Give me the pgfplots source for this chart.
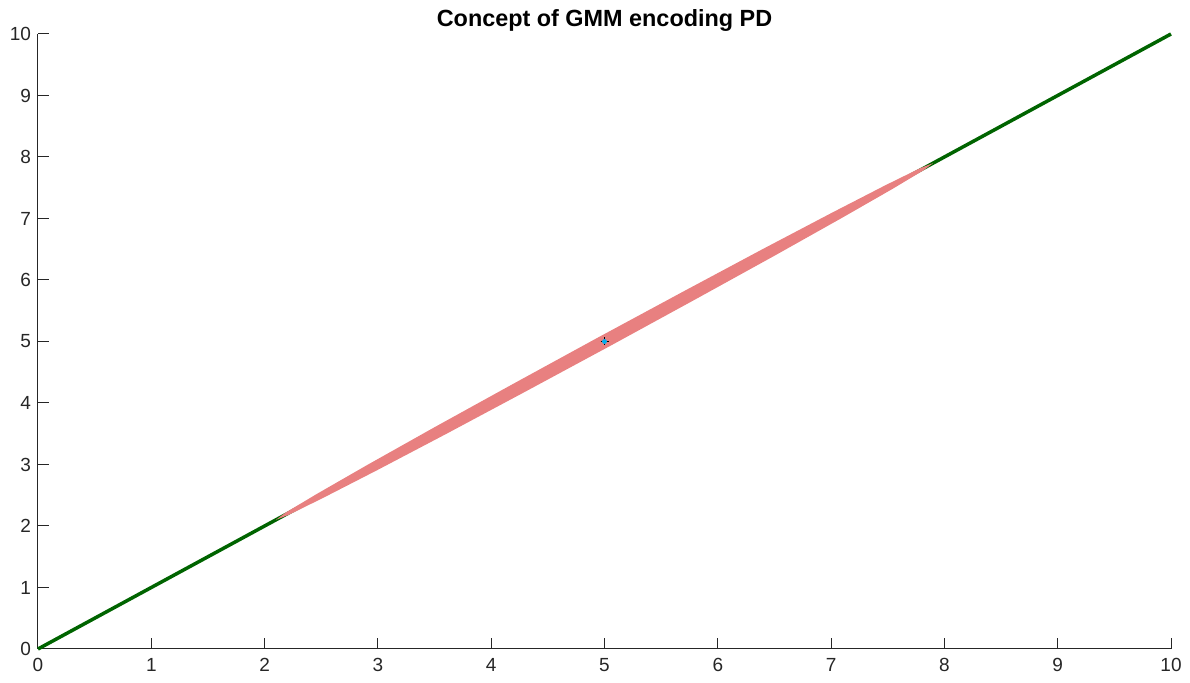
\documentclass[border=0pt]{standalone}
\usepackage{fontspec}
\setmainfont{Liberation Sans}
\usepackage{pgfplots}
\pgfplotsset{compat=1.18}
\definecolor{axgray}{RGB}{38,38,38}
\definecolor{linegreen}{RGB}{0,100,0}
\definecolor{ellred}{RGB}{232,128,128}
\begin{document}
\begin{tikzpicture}
% page size in px*0.5pt, axis box at origin
\path[use as bounding box] (-19pt,-17pt) rectangle (576pt,324.5pt);
\begin{axis}[scale only axis, width=566.5pt, height=307.5pt,
  xmin=0, xmax=10, ymin=0, ymax=10,
  xtick={0,...,10}, ytick={0,...,10},
  axis x line*=bottom, axis y line*=left,
  axis line style={axgray, line width=0.5pt, -},
  tick style={axgray, line width=0.5pt},
  major tick length=5.5pt, tick align=inside,
  ticklabel style={font=\fontsize{9.5}{11}\selectfont, text=axgray},
  /pgf/number format/assume math mode=true,
  xticklabel style={yshift=-1pt}, yticklabel style={xshift=0pt},
  title={\bfseries Concept of GMM encoding PD},
  title style={font=\fontsize{11.7}{13}\selectfont, at={(0.5,1)}, anchor=south, yshift=-8.5pt},
  clip=false]
\addplot[linegreen, line width=1.75pt] coordinates {(0,0) (10,10)};
\addplot[fill=ellred, draw=none] coordinates {
  (7.900,7.900) (7.817,7.785) (7.542,7.481) (7.094,7.008) (6.503,6.397)
  (5.809,5.692) (5.061,4.939) (4.308,4.191) (3.603,3.497) (2.992,2.906)
  (2.519,2.459) (2.215,2.183) (2.100,2.100) (2.183,2.215) (2.459,2.519)
  (2.906,2.992) (3.497,3.603) (4.191,4.308) (4.939,5.061) (5.692,5.809)
  (6.397,6.503) (7.008,7.094) (7.481,7.542) (7.785,7.817)} -- cycle;
\addplot[only marks, mark=+, mark size=2pt, black, line width=0.5pt] coordinates {(5,5)};
\addplot[only marks, mark=*, mark size=1pt, cyan, draw=cyan] coordinates {(5,5)};
\end{axis}
\end{tikzpicture}
\end{document}
